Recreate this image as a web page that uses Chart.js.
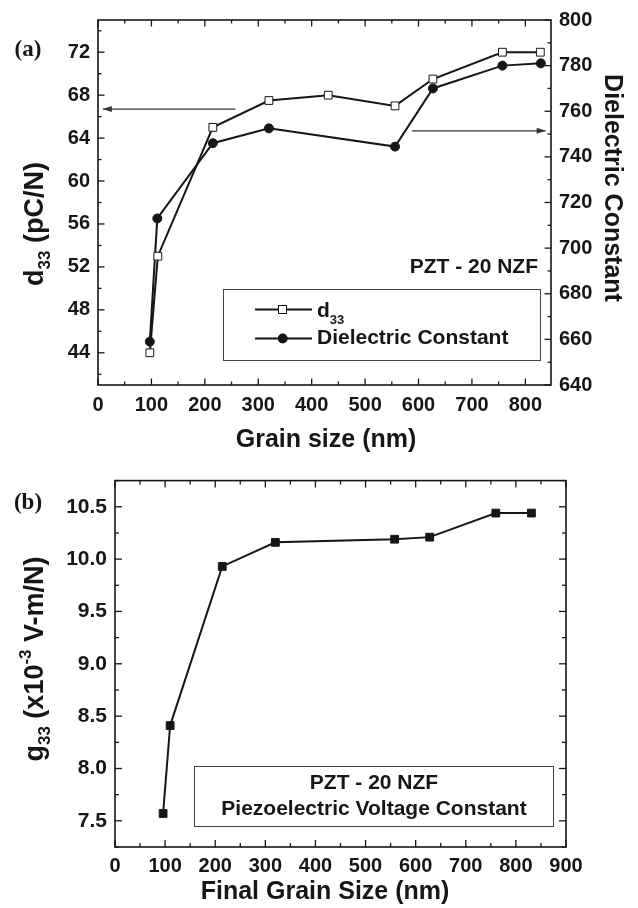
<!DOCTYPE html>
<html>
<head>
<meta charset="utf-8">
<script src="https://cdn.jsdelivr.net/npm/chart.js@4.4.1/dist/chart.umd.min.js"></script>
<style>
  html, body { margin:0; padding:0; background:#fff; }
  #wrapA { position:absolute; left:0; top:0; width:638px; height:460px; }
  #wrapB { position:absolute; left:0; top:460px; width:638px; height:448px; }
</style>
</head>
<body>
<div id="wrapA"><canvas id="chartA"></canvas></div>
<div id="wrapB"><canvas id="chartB"></canvas></div>
<script>
// ---- data ----
const grainD33        = [97, 112, 215, 320, 431, 556, 627, 757, 828];
const d33Vals         = [44, 53, 65, 67.5, 68, 67, 69.5, 72, 72];
const grainDielectric = [97, 111, 215, 320, 556, 627, 757, 829];
const dielectricVals  = [659, 713, 746, 752.5, 744.5, 770, 780, 781];
const grainG33        = [96, 110, 214, 320, 558, 628, 760, 831];
const g33Vals         = [7.57, 8.41, 9.93, 10.16, 10.19, 10.21, 10.44, 10.44];

// tick labels
const grainTicksA     = [0, 100, 200, 300, 400, 500, 600, 700, 800];
const d33Ticks        = [44, 48, 52, 56, 60, 64, 68, 72];
const dielectricTicks = [640, 660, 680, 700, 720, 740, 760, 780, 800];
const grainTicksB     = [0, 100, 200, 300, 400, 500, 600, 700, 800, 900];
const g33Ticks        = ['7.5', '8.0', '8.5', '9.0', '9.5', '10.0', '10.5'];

const SANS  = "'Liberation Sans', Arial, Helvetica, sans-serif";
const SERIF = "'Liberation Serif', 'Times New Roman', serif";
const INK   = '#161616';

Chart.defaults.font.family = SANS;
Chart.defaults.color = INK;

const toPts = (xs, ys) => xs.map((x, i) => ({ x, y: ys[i] }));
const fixedSize = px => scale => { if (scale.isHorizontal()) scale.height = px; else scale.width = px; };
const labelIf = list => v => list.includes(v) ? String(v) : '';
const tickFont = size => ({ family: SANS, size, weight: 'bold' });

// major + minor tick positions (minor ticks get an empty label)
function tickSteps(from, to, step) {
  const out = [];
  for (let v = from; v <= to + 1e-9; v += step) out.push({ value: Math.round(v * 100) / 100 });
  return out;
}
const setTicks = (from, to, step) => scale => { scale.ticks = tickSteps(from, to, step); };

// frame + inward tick marks on all sides
const frameTicks = {
  id: 'frameTicks',
  afterDraw(chart, args, opts) {
    const { ctx, chartArea: a } = chart;
    ctx.save();
    ctx.strokeStyle = INK;
    ctx.lineWidth = 1.6;
    ctx.strokeRect(a.left, a.top, a.right - a.left, a.bottom - a.top);
    ctx.lineWidth = 1.3;
    for (const side in opts.sides) {
      const sc = chart.scales[opts.sides[side]];
      sc.ticks.forEach(t => {
        const len = t.label !== '' ? opts.major : opts.minor;
        const p = sc.getPixelForValue(t.value);
        ctx.beginPath();
        if (side === 'bottom') { ctx.moveTo(p, a.bottom); ctx.lineTo(p, a.bottom - len); }
        if (side === 'top')    { ctx.moveTo(p, a.top);    ctx.lineTo(p, a.top + len); }
        if (side === 'left')   { ctx.moveTo(a.left, p);   ctx.lineTo(a.left + len, p); }
        if (side === 'right')  { ctx.moveTo(a.right, p);  ctx.lineTo(a.right - len, p); }
        ctx.stroke();
      });
    }
    ctx.restore();
  }
};

// text with sub/superscripts, optionally rotated
function richText(ctx, parts, x, y, angle, align) {
  ctx.save();
  ctx.translate(x, y);
  ctx.rotate(angle);
  ctx.fillStyle = INK;
  ctx.textBaseline = 'alphabetic';
  ctx.textAlign = 'left';
  let w = 0;
  parts.forEach(p => { ctx.font = `bold ${p.size}px ${SANS}`; p.w = ctx.measureText(p.t).width; w += p.w; });
  let cx = align === 'center' ? -w / 2 : (align === 'right' ? -w : 0);
  parts.forEach(p => { ctx.font = `bold ${p.size}px ${SANS}`; ctx.fillText(p.t, cx, p.dy || 0); cx += p.w; });
  ctx.restore();
}

function arrow(ctx, x1, y1, x2, y2) {
  ctx.save();
  ctx.strokeStyle = '#333'; ctx.fillStyle = '#333'; ctx.lineWidth = 1.1;
  ctx.beginPath(); ctx.moveTo(x1, y1); ctx.lineTo(x2, y2); ctx.stroke();
  const d = Math.sign(x2 - x1);
  ctx.beginPath();
  ctx.moveTo(x2, y2); ctx.lineTo(x2 - d * 9, y2 - 3); ctx.lineTo(x2 - d * 9, y2 + 3); ctx.closePath();
  ctx.fill();
  ctx.restore();
}

function plainText(ctx, text, x, y, font, align, angle) {
  ctx.save();
  ctx.translate(x, y);
  ctx.rotate(angle || 0);
  ctx.font = font; ctx.fillStyle = INK;
  ctx.textAlign = align || 'center'; ctx.textBaseline = 'middle';
  ctx.fillText(text, 0, 0);
  ctx.restore();
}

const annotA = {
  id: 'annotA',
  afterDraw(chart) {
    const { ctx } = chart;
    const sx = chart.scales.x, sy = chart.scales.y, sy2 = chart.scales.y2;
    // arrows pointing to the axes
    arrow(ctx, sx.getPixelForValue(257), sy.getPixelForValue(66.7), sx.getPixelForValue(9), sy.getPixelForValue(66.7));
    arrow(ctx, sx.getPixelForValue(588), sy2.getPixelForValue(751.4), sx.getPixelForValue(838), sy2.getPixelForValue(751.4));

    plainText(ctx, 'PZT - 20 NZF', 538, 267, `bold 21px ${SANS}`, 'right');

    // legend box
    ctx.save();
    ctx.strokeStyle = '#444'; ctx.lineWidth = 1;
    ctx.strokeRect(223.5, 289.5, 317, 71);
    ctx.strokeStyle = INK; ctx.lineWidth = 2;
    [309.5, 338.5].forEach(ry => { ctx.beginPath(); ctx.moveTo(255, ry); ctx.lineTo(312, ry); ctx.stroke(); });
    ctx.fillStyle = '#fff'; ctx.lineWidth = 1;
    ctx.fillRect(278.5, 305.5, 8, 8); ctx.strokeRect(278.5, 305.5, 8, 8);
    ctx.fillStyle = INK;
    ctx.beginPath(); ctx.arc(282.7, 338.5, 5, 0, Math.PI * 2); ctx.fill();
    ctx.restore();
    richText(ctx, [{ t: 'd', size: 21 }, { t: '33', size: 13, dy: 7 }], 317, 316.5, 0, 'left');
    plainText(ctx, 'Dielectric Constant', 317, 338.5, `bold 21px ${SANS}`, 'left');

    // axis titles
    richText(ctx, [{ t: 'd', size: 27 }, { t: '33', size: 17, dy: 7 }, { t: ' (pC/N)', size: 27 }], 43, 224, -Math.PI / 2, 'center');
    plainText(ctx, 'Dielectric Constant', 612, 188, `bold 25px ${SANS}`, 'center', Math.PI / 2);
    plainText(ctx, 'Grain size (nm)', 326, 440, `bold 25px ${SANS}`, 'center');
    plainText(ctx, '(a)', 28, 50, `bold 23px ${SERIF}`, 'center');
  }
};

const annotB = {
  id: 'annotB',
  afterDraw(chart) {
    const { ctx } = chart;
    ctx.save();
    ctx.strokeStyle = '#444'; ctx.lineWidth = 1;
    ctx.strokeRect(194.5, 306.5, 359, 60);
    ctx.restore();
    plainText(ctx, 'PZT - 20 NZF', 374, 323, `bold 21px ${SANS}`, 'center');
    plainText(ctx, 'Piezoelectric Voltage Constant', 374, 349.5, `bold 21px ${SANS}`, 'center');

    richText(ctx, [
      { t: 'g', size: 27 }, { t: '33', size: 17, dy: 7 }, { t: ' (x10', size: 27 },
      { t: '-3', size: 17, dy: -12 }, { t: ' V-m/N)', size: 27 }
    ], 43, 199, -Math.PI / 2, 'center');
    plainText(ctx, 'Final Grain Size (nm)', 325, 432, `bold 25px ${SANS}`, 'center');
    plainText(ctx, '(b)', 28, 43, `bold 23px ${SERIF}`, 'center');
  }
};

const noGrid = { display: false, drawTicks: false };

new Chart(document.getElementById('chartA'), {
  type: 'line',
  data: {
    datasets: [
      {
        label: 'd33', data: toPts(grainD33, d33Vals), yAxisID: 'y',
        borderColor: INK, borderWidth: 2, tension: 0,
        pointStyle: 'rect', pointRadius: 5.5, pointBackgroundColor: '#fff', pointBorderColor: INK, pointBorderWidth: 1
      },
      {
        label: 'Dielectric Constant', data: toPts(grainDielectric, dielectricVals), yAxisID: 'y2',
        borderColor: INK, borderWidth: 2, tension: 0,
        pointStyle: 'circle', pointRadius: 4.5, pointBackgroundColor: INK, pointBorderColor: INK, pointBorderWidth: 1
      }
    ]
  },
  options: {
    responsive: true, maintainAspectRatio: false, animation: false,
    layout: { padding: { top: 17, left: 0, right: 0, bottom: 0 } },
    plugins: {
      legend: { display: false }, tooltip: { enabled: false },
      frameTicks: { sides: { bottom: 'x', top: 'x', left: 'y', right: 'y2' }, major: 6.5, minor: 3.5 }
    },
    scales: {
      x: {
        type: 'linear', min: 0, max: 848, afterFit: fixedSize(75), afterBuildTicks: setTicks(0, 800, 50),
        grid: noGrid, border: { display: false },
        ticks: { autoSkip: false, maxRotation: 0, padding: 8,
                 color: INK, font: tickFont(20), callback: labelIf(grainTicksA) }
      },
      y: {
        type: 'linear', position: 'left', min: 41, max: 75, afterFit: fixedSize(98), afterBuildTicks: setTicks(42, 74, 2),
        grid: noGrid, border: { display: false },
        ticks: { autoSkip: false, padding: 8,
                 color: INK, font: tickFont(20), callback: labelIf(d33Ticks) }
      },
      y2: {
        type: 'linear', position: 'right', min: 640, max: 800, afterFit: fixedSize(87), afterBuildTicks: setTicks(640, 800, 10),
        grid: noGrid, border: { display: false },
        ticks: { autoSkip: false, padding: 8,
                 color: INK, font: tickFont(20), callback: labelIf(dielectricTicks) }
      }
    }
  },
  plugins: [frameTicks, annotA]
});

new Chart(document.getElementById('chartB'), {
  type: 'line',
  data: {
    datasets: [
      {
        label: 'g33', data: toPts(grainG33, g33Vals),
        borderColor: INK, borderWidth: 2, tension: 0,
        pointStyle: 'rect', pointRadius: 5.5, pointBackgroundColor: INK, pointBorderColor: INK, pointBorderWidth: 1
      }
    ]
  },
  options: {
    responsive: true, maintainAspectRatio: false, animation: false,
    layout: { padding: { top: 19, left: 0, right: 72, bottom: 0 } },
    plugins: {
      legend: { display: false }, tooltip: { enabled: false },
      frameTicks: { sides: { bottom: 'x', top: 'x', left: 'y', right: 'y' }, major: 7, minor: 4 }
    },
    scales: {
      x: {
        type: 'linear', min: 0, max: 900, afterFit: fixedSize(61), afterBuildTicks: setTicks(0, 900, 50),
        grid: noGrid, border: { display: false },
        ticks: { autoSkip: false, maxRotation: 0, padding: 7,
                 color: INK, font: tickFont(20), callback: labelIf(grainTicksB) }
      },
      y: {
        type: 'linear', position: 'left', min: 7.25, max: 10.75, afterFit: fixedSize(115), afterBuildTicks: setTicks(7.25, 10.75, 0.25),
        grid: noGrid, border: { display: false },
        ticks: { autoSkip: false, padding: 8, color: INK, font: tickFont(21),
                 callback: v => { const s = v.toFixed(1); return (Math.abs(v - Number(s)) < 1e-6 && g33Ticks.includes(s)) ? s : ''; } }
      }
    }
  },
  plugins: [frameTicks, annotB]
});
</script>
</body>
</html>
